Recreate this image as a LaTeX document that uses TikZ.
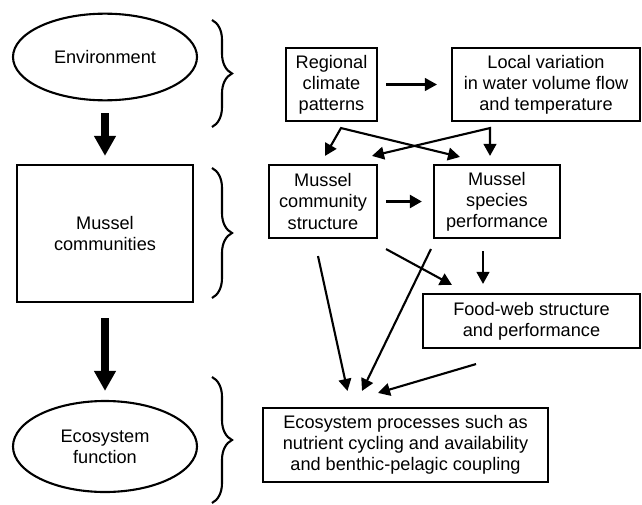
\documentclass[tikz,border=0pt]{standalone}
\usepackage{fontspec}
\setmainfont{Liberation Sans}
\usetikzlibrary{shapes.geometric, arrows.meta, calc, decorations.pathreplacing}

\begin{document}
\begin{tikzpicture}[x=0.03cm, y=-0.03cm, font=\fontsize{15.5}{18}\selectfont]
% Styles
\tikzstyle{level} = [ellipse, draw=black, line width=1.8pt, minimum width=5.52cm, minimum height=2.6cm, align=center, inner sep=0pt]
\tikzstyle{bigbox} = [rectangle, draw=black, line width=1.8pt, minimum width=5.28cm, minimum height=4.11cm, align=center]
\tikzstyle{box} = [rectangle, draw=black, line width=1.8pt, minimum height=2.19cm, align=center, inner sep=2pt]
\tikzstyle{arrow} = [line width=1.8pt, -{Triangle[length=0.36cm, width=0.38cm]}]
\tikzstyle{twoway} = [line width=1.8pt, line join=miter, {Triangle[length=0.36cm, width=0.38cm]}-{Triangle[length=0.36cm, width=0.38cm]}]
\tikzstyle{bigarrow} = [line width=6.5pt, -{Triangle[length=0.6cm, width=0.62cm]}]
\tikzstyle{bracket} = [line width=1.8pt, decorate, decoration={brace, amplitude=0.6cm}]

\useasboundingbox (0,0) rectangle (642,505);

% Left column
\node (env) [level] at (105,57) {Environment};
\node (mcom) [bigbox] at (105,233.5) {Mussel\\communities};
\node (ecof) [level, minimum height=2.73cm] at (105,446.5) {Ecosystem\\function};

% Right column
\node (regional) [box, minimum width=2.73cm] at (331.5,84.5) {Regional\\climate\\patterns};
\node (local) [box, minimum width=5.64cm] at (546,84.5) {Local variation\\in water volume flow\\and temperature};
\node (mcs) [box, minimum width=3.24cm] at (323,201.5) {Mussel\\community\\structure};
\node (msp) [box, minimum width=3.78cm] at (497,201.5) {Mussel\\species\\performance};
\node (foodweb) [box, minimum width=6.51cm, minimum height=1.62cm] at (531.5,321) {Food-web structure\\and performance};
\node (ecop) [box, minimum width=8.55cm, minimum height=2.22cm] at (405.5,445) {Ecosystem processes such as\\nutrient cycling and availability\\and benthic-pelagic coupling};

% Braces
\draw [bracket] (212,20) -- (212,127);
\draw [bracket] (212,168) -- (212,298);
\draw [bracket] (212,377) -- (212,503);

% Arrows
\draw [bigarrow, shorten <=0.36cm, shorten >=0.24cm] (env) -- (mcom);
\draw [bigarrow, shorten <=0.45cm, shorten >=0.27cm] (mcom) -- (ecof);
\draw [arrow, shorten <=0.24cm, shorten >=0.42cm] (regional) -- (local);
\draw [arrow, line width=2.6pt, shorten <=0.24cm, shorten >=0.33cm] (mcs) -- (msp);

\coordinate (rc) at ($(regional.south)+(9.5,6)$);
\coordinate (lv) at ($(local.south)+(-56,6)$);
\draw [twoway] ($(mcs.north)+(2,-8)$) -- (rc) -- ($(msp.north)+(-37,-7)$);
\draw [twoway] ($(mcs.north)+(49,-8)$) -- (lv) -- ($(msp.north)+(-7,-8)$);

\draw [arrow] ($(mcs.south)+(-5,17)$) -- ($(ecop.north)+(-58,-16)$);
\draw [arrow] ($(mcs.south east)+(8,10)$) -- ($(foodweb.north west)+(30,-8)$);
\draw [arrow] ($(msp.south west)+(-2,10)$) -- ($(ecop.north)+(-43.5,-16)$);
\draw [arrow] ($(msp.south)+(-14,12)$) -- ($(foodweb.north)+(-48.5,-9)$);
\draw [arrow] ($(foodweb.south)+(-55.5,15)$) -- ($(ecop.north)+(-27.5,-14)$);
\end{tikzpicture}
\end{document}
